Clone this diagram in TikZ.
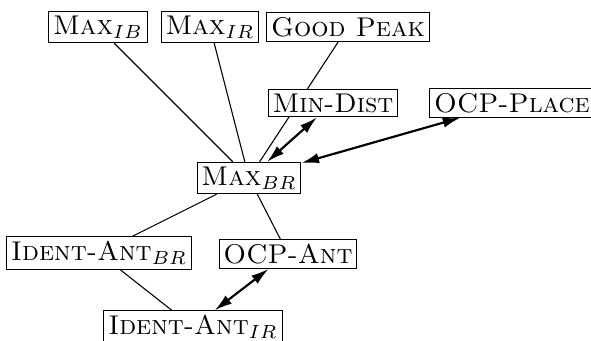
\documentclass[tikz,border=0pt]{standalone}
\usepackage{tikz}
\usetikzlibrary{backgrounds,arrows.meta}

\begin{document}
\begin{tikzpicture}[x=0.369pt,y=-0.369pt,
        con/.style={draw,fill=white,inner sep=1.6pt},
        dom/.style={thick,{Latex[length=6.5pt,width=3.8pt]}-{Latex[length=6.5pt,width=3.8pt]}}]
    \useasboundingbox (0,0) rectangle (591,341);
    % constraints
    \node [con] (maxib) at (98,27) {\textsc{Max}$_{IB}$};
    \node [con] (maxir) at (210,27) {\textsc{Max}$_{IR}$};
    \node [con] (good) at (348,27) {\textsc{Good Peak}};
    \node [con] (mindist) at (333,103) {\textsc{Min-Dist}};
    \node [con] (ocpplace) at (512,103) {\textsc{OCP-Place}};
    \node [con] (maxbr) at (249,178) {\textsc{Max}$_{BR}$};
    \node [con] (identbr) at (99,253) {\textsc{Ident-Ant}$_{BR}$};
    \node [con] (ocpant) at (288,254) {\textsc{OCP-Ant}};
    \node [con] (identir) at (193,327) {\textsc{Ident-Ant}$_{IR}$};
    % links
    \begin{scope}[on background layer]
    \draw (maxib) -- (maxbr);
    \draw (maxir) -- (maxbr);
    \draw (good) -- (maxbr);
    \draw (maxbr) -- (identbr);
    \draw (maxbr) -- (ocpant);
    \draw (identbr) -- (identir);
    \end{scope}
    \draw [dom] (mindist) -- (maxbr);
    \draw [dom] (ocpplace) -- (maxbr);
    \draw [dom] (ocpant) -- (identir);
\end{tikzpicture}
\end{document}
